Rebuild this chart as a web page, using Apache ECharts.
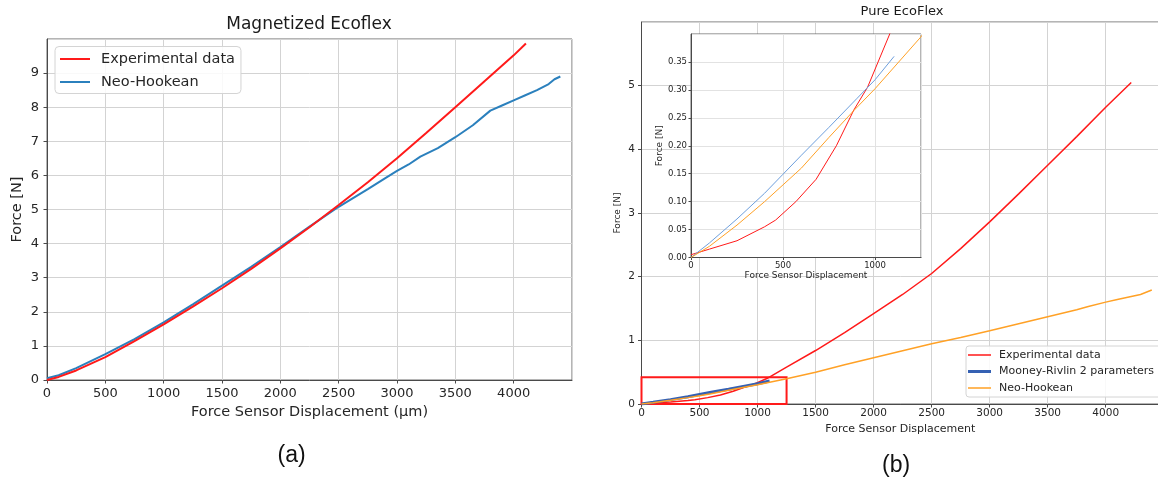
<!DOCTYPE html>
<html>
<head>
<meta charset="utf-8">
<title>Ecoflex force–displacement</title>
<script src="https://cdn.jsdelivr.net/npm/echarts@6.0.0/dist/echarts.min.js"></script>
<style>
  html, body { margin: 0; padding: 0; background: #ffffff; }
  #chart { width: 1158px; height: 482px; }
</style>
</head>
<body>
<div id="chart"></div>
<script>
// ---- (a) Magnetized Ecoflex ----
const magExpX = [0, 100, 250, 500, 750, 1000, 1250, 1500, 1750, 2000, 2250, 2500, 2750, 3000, 3250, 3500, 3750, 4000, 4105];
const magExpY = [0, 0.09, 0.28, 0.67, 1.14, 1.63, 2.15, 2.69, 3.26, 3.86, 4.48, 5.13, 5.8, 6.5, 7.24, 8.0, 8.76, 9.52, 9.87];

const magNeoX = [0, 100, 250, 500, 750, 1000, 1250, 1500, 1750, 2000, 2250, 2500, 2750, 2900, 3000, 3100, 3200, 3350, 3500, 3650, 3800, 3900, 4000, 4100, 4200, 4300, 4350, 4400];
const magNeoY = [0.05, 0.14, 0.35, 0.76, 1.2, 1.69, 2.22, 2.77, 3.32, 3.9, 4.5, 5.08, 5.6, 5.92, 6.13, 6.32, 6.55, 6.8, 7.12, 7.47, 7.9, 8.05, 8.2, 8.35, 8.5, 8.68, 8.82, 8.9];

// ---- (b) Pure EcoFlex ----
const pureExpX = [0, 100, 250, 400, 460, 570, 680, 790, 885, 960, 1080, 1250, 1500, 1750, 2000, 2250, 2500, 2750, 3000, 3250, 3500, 3750, 4000, 4220];
const pureExpY = [0.005, 0.015, 0.03, 0.055, 0.067, 0.1, 0.14, 0.2, 0.264, 0.305, 0.4, 0.58, 0.84, 1.12, 1.42, 1.72, 2.05, 2.44, 2.86, 3.3, 3.75, 4.2, 4.66, 5.05];

const pureMRX = [0, 100, 250, 400, 500, 600, 750, 900, 1000, 1104];
const pureMRY = [0, 0.026, 0.069, 0.115, 0.149, 0.183, 0.233, 0.284, 0.318, 0.36];

const pureNeoX = [0, 100, 250, 400, 500, 600, 750, 885, 1000, 1250, 1500, 1750, 2000, 2250, 2500, 2750, 3000, 3250, 3500, 3750, 3850, 4000, 4100, 4200, 4300, 4397];
const pureNeoY = [0, 0.02, 0.058, 0.1, 0.13, 0.16, 0.215, 0.263, 0.302, 0.395, 0.5, 0.615, 0.725, 0.835, 0.945, 1.045, 1.15, 1.26, 1.37, 1.48, 1.53, 1.6, 1.64, 1.68, 1.72, 1.79];

// zoomed window shown in the inset (data units)
const zoomX = [0, 1250];
const zoomY = [0, 0.42];
const insetYMax = 0.4;

const seriesNames = ['Experimental data', 'Neo-Hookean', 'Mooney-Rivlin 2 parameters'];

const pairs = (xs, ys) => xs.map((x, i) => [x, ys[i]]);

const FONT = 'DejaVu Sans';
const TXT = '#262626';
const GRIDC = '#d3d3d3';
const SPINE = '#4a4a4a';

const RED = '#ff1a1a';
const BLUE_A = '#2b80bd';
const ORANGE = '#ffa126';
const MR_BLUE = '#3561b3';
const MR_LIGHT = '#6e9fdc';

// legend handle: a horizontal stroke of thickness t centred in a w x h box
function strokeIcon(w, h, t) {
  const a = (h - t) / 2, b = (h + t) / 2;
  return 'path://M0,0 L0.01,0 L0,0 Z ' +
    `M0,${a} L${w},${a} L${w},${b} L0,${b} Z ` +
    `M0,${h} L0.01,${h} L0,${h} Z`;
}

const plainNum = v => String(v);

function valueAxis(opts) {
  return Object.assign({
    type: 'value',
    nameLocation: 'middle',
    nameTextStyle: { color: TXT, fontFamily: FONT },
    axisLine: { show: true, onZero: false, lineStyle: { color: SPINE, width: 1 } },
    axisTick: { show: true, length: 3.5, lineStyle: { color: SPINE } },
    axisLabel: { color: TXT, fontFamily: FONT, showMaxLabel: false, showMinLabel: true, formatter: plainNum },
    splitLine: { show: true, lineStyle: { color: GRIDC, width: 1 } }
  }, opts);
}

const chart = echarts.init(document.getElementById('chart'), null, { renderer: 'canvas' });

chart.setOption({
  animation: false,
  backgroundColor: '#ffffff',
  title: [
    { text: 'Magnetized Ecoflex', left: 309, top: 16, textAlign: 'center', padding: 0,
      textStyle: { fontFamily: FONT, fontSize: 17, fontWeight: 'normal', color: '#1a1a1a' } },
    { text: 'Pure EcoFlex', left: 902, top: 5, textAlign: 'center', padding: 0,
      textStyle: { fontFamily: FONT, fontSize: 13, fontWeight: 'normal', color: '#1a1a1a' } }
  ],
  grid: [
    { left: 47, top: 39, width: 525, height: 341, show: true, borderColor: '#6a6a6a', borderWidth: 1, backgroundColor: 'transparent', outerBoundsMode: 'none', containLabel: false },
    { left: 641.5, top: 22, width: 517.6, height: 382, show: true, borderColor: '#6a6a6a', borderWidth: 1, backgroundColor: 'transparent', outerBoundsMode: 'none', containLabel: false },
    { left: 691, top: 34, width: 230, height: 223.5, show: true, borderColor: '#6a6a6a', borderWidth: 1, backgroundColor: '#ffffff', z: 3, outerBoundsMode: 'none', containLabel: false }
  ],
  xAxis: [
    valueAxis({ gridIndex: 0, min: 0, max: 4500, interval: 500,
      name: 'Force Sensor Displacement (μm)', nameGap: 25,
      nameTextStyle: { color: TXT, fontFamily: FONT, fontSize: 14.5 },
      axisLabel: { color: TXT, fontFamily: FONT, fontSize: 13, margin: 7, showMaxLabel: false, formatter: plainNum } }),
    valueAxis({ gridIndex: 1, min: 0, max: 4460, interval: 500,
      name: 'Force Sensor Displacement', nameGap: 18.5,
      nameTextStyle: { color: TXT, fontFamily: FONT, fontSize: 11 },
      axisLabel: { color: TXT, fontFamily: FONT, fontSize: 10.5, margin: 4, showMaxLabel: false, formatter: plainNum } }),
    valueAxis({ gridIndex: 2, min: zoomX[0], max: zoomX[1], interval: 500, z: 4,
      name: 'Force Sensor Displacement', nameGap: 14,
      nameTextStyle: { color: TXT, fontFamily: FONT, fontSize: 9 },
      axisTick: { show: true, length: 2.5, lineStyle: { color: SPINE } },
      axisLabel: { color: TXT, fontFamily: FONT, fontSize: 8.5, margin: 3.5, showMaxLabel: false, formatter: plainNum },
      splitLine: { show: true, lineStyle: { color: '#e2e2e2', width: 1 } } })
  ],
  yAxis: [
    valueAxis({ gridIndex: 0, min: 0, max: 10, interval: 1,
      name: 'Force [N]', nameGap: 22,
      nameTextStyle: { color: TXT, fontFamily: FONT, fontSize: 14.5 },
      axisLabel: { color: TXT, fontFamily: FONT, fontSize: 13, margin: 8, showMaxLabel: false, formatter: plainNum } }),
    valueAxis({ gridIndex: 1, min: 0, max: 6, interval: 1,
      name: 'Force [N]', nameGap: 19,
      nameTextStyle: { color: TXT, fontFamily: FONT, fontSize: 9 },
      axisLabel: { color: TXT, fontFamily: FONT, fontSize: 10.5, margin: 6.5, showMaxLabel: false, formatter: plainNum } }),
    valueAxis({ gridIndex: 2, min: 0, max: insetYMax, interval: 0.05, z: 4,
      name: 'Force [N]', nameGap: 26,
      nameTextStyle: { color: TXT, fontFamily: FONT, fontSize: 9 },
      axisTick: { show: true, length: 2.5, lineStyle: { color: SPINE } },
      axisLabel: { color: TXT, fontFamily: FONT, fontSize: 8.5, margin: 4, showMaxLabel: false,
        formatter: v => v.toFixed(2) },
      splitLine: { show: true, lineStyle: { color: '#e2e2e2', width: 1 } } })
  ],
  legend: [
    {
      orient: 'vertical', left: 55, top: 46.5,
      padding: [5, 6, 4, 5], itemWidth: 30, itemHeight: 14, itemGap: 8,
      backgroundColor: 'rgba(255,255,255,0.85)', borderColor: '#d4d4d4', borderWidth: 1, borderRadius: 4,
      textStyle: { fontFamily: FONT, fontSize: 14.5, color: TXT, padding: [0, 0, 0, 6] },
      selectedMode: false,
      data: [
        { name: seriesNames[0], icon: strokeIcon(30, 14, 2), itemStyle: { color: RED, borderWidth: 0 } },
        { name: seriesNames[1], icon: strokeIcon(30, 14, 2), itemStyle: { color: BLUE_A, borderWidth: 0 } }
      ]
    },
    {
      orient: 'vertical', left: 966, top: 346,
      padding: [3, 12, 3, 2], itemWidth: 23, itemHeight: 12, itemGap: 4.5,
      backgroundColor: 'rgba(255,255,255,0.85)', borderColor: '#d4d4d4', borderWidth: 1, borderRadius: 3,
      textStyle: { fontFamily: FONT, fontSize: 11, color: TXT, padding: [0, 0, 0, 3] },
      selectedMode: false,
      data: [
        { name: seriesNames[0], icon: strokeIcon(23, 12, 1.5), itemStyle: { color: RED, borderWidth: 0 } },
        { name: seriesNames[2], icon: strokeIcon(23, 12, 3), itemStyle: { color: MR_BLUE, borderWidth: 0 } },
        { name: seriesNames[1], icon: strokeIcon(23, 12, 1.5), itemStyle: { color: ORANGE, borderWidth: 0 } }
      ]
    }
  ],
  graphic: [
    { type: 'text', left: 291.5 - 14, top: 444, style: { text: '(a)', fontFamily: 'Liberation Sans', fontSize: 23, fill: '#111' } },
    { type: 'text', left: 896 - 14, top: 454, style: { text: '(b)', fontFamily: 'Liberation Sans', fontSize: 23, fill: '#111' } }
  ],
  series: [
    // (a)
    { name: seriesNames[0], type: 'line', xAxisIndex: 0, yAxisIndex: 0, symbol: 'none', z: 3,
      lineStyle: { color: RED, width: 2 }, itemStyle: { color: RED }, data: pairs(magExpX, magExpY) },
    { name: seriesNames[1], type: 'line', xAxisIndex: 0, yAxisIndex: 0, symbol: 'none', z: 2,
      lineStyle: { color: BLUE_A, width: 2 }, itemStyle: { color: BLUE_A }, data: pairs(magNeoX, magNeoY) },

    // (b) main axes
    { name: seriesNames[0], type: 'line', xAxisIndex: 1, yAxisIndex: 1, symbol: 'none', z: 2,
      lineStyle: { color: RED, width: 1.5 }, itemStyle: { color: RED }, data: pairs(pureExpX, pureExpY) },
    { name: seriesNames[2], type: 'line', xAxisIndex: 1, yAxisIndex: 1, symbol: 'none', z: 2,
      lineStyle: { color: MR_BLUE, width: 3 }, itemStyle: { color: MR_BLUE }, data: pairs(pureMRX, pureMRY) },
    { name: seriesNames[1], type: 'line', xAxisIndex: 1, yAxisIndex: 1, symbol: 'none', z: 2,
      lineStyle: { color: ORANGE, width: 1.5 }, itemStyle: { color: ORANGE }, data: pairs(pureNeoX, pureNeoY) },

    // outline of the zoomed window
    { name: 'zoom window', type: 'line', xAxisIndex: 1, yAxisIndex: 1, symbol: 'none', z: 6, silent: true,
      data: [],
      markArea: {
        silent: true,
        itemStyle: { color: 'rgba(0,0,0,0)', borderColor: RED, borderWidth: 2 },
        data: [[{ coord: [zoomX[0], zoomY[0]] }, { coord: [zoomX[1], zoomY[1]] }]]
      } },

    // (b) inset
    { name: seriesNames[0], type: 'line', xAxisIndex: 2, yAxisIndex: 2, symbol: 'none', z: 5, clip: true,
      lineStyle: { color: RED, width: 1 }, itemStyle: { color: RED }, data: pairs(pureExpX, pureExpY) },
    { name: seriesNames[2], type: 'line', xAxisIndex: 2, yAxisIndex: 2, symbol: 'none', z: 5, clip: true,
      lineStyle: { color: MR_LIGHT, width: 1 }, itemStyle: { color: MR_LIGHT }, data: pairs(pureMRX, pureMRY) },
    { name: seriesNames[1], type: 'line', xAxisIndex: 2, yAxisIndex: 2, symbol: 'none', z: 5, clip: true,
      lineStyle: { color: ORANGE, width: 1 }, itemStyle: { color: ORANGE }, data: pairs(pureNeoX, pureNeoY) }
  ]
});
</script>
</body>
</html>
